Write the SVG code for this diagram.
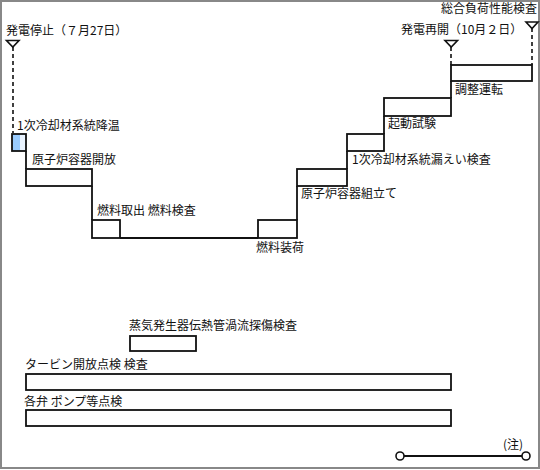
<svg xmlns="http://www.w3.org/2000/svg" width="540" height="470" viewBox="0 0 540 470">
<style>
text{font-family:"Noto Sans CJK JP","Noto Sans",sans-serif;font-size:12px;fill:#111}
.st{fill:none;stroke:#111;stroke-width:1.8}
.bx{fill:#fff;stroke:#111;stroke-width:1.8}
.dash{stroke:#111;stroke-width:1.6;stroke-dasharray:4 3;fill:none}
.tri{fill:#fff;stroke:#111;stroke-width:1.6}
.dot{fill:#fff;stroke:#111;stroke-width:1.6}
</style>
<rect x="0" y="0" width="540" height="470" fill="#fff"/>
<rect x="1" y="1" width="538" height="467" fill="none" stroke="#888" stroke-width="2"/>
<g id="connectors">
<line class="dash" x1="13" y1="47" x2="13" y2="133"/>
<line class="dash" x1="451" y1="47" x2="451" y2="65"/>
<line class="dash" x1="532" y1="28" x2="532" y2="65"/>
<polyline class="st" points="26,151 26,169"/>
<polyline class="st" points="92,186 92,220"/>
<polyline class="st" points="120,238 258,238"/>
<polyline class="st" points="297,186 297,220"/>
<polyline class="st" points="347,151 347,169"/>
<polyline class="st" points="384,116 384,134"/>
<polyline class="st" points="451,81 451,98"/>
<line class="st" x1="404" y1="456" x2="522" y2="456"/>
</g>
<g id="stop">
<polygon class="tri" points="6.5,40.5 19,40.5 12.8,47"/>
<text x="6" y="35">発電停止（７月27日）</text>
</g>
<g id="restart">
<polygon class="tri" points="445,40.5 457.5,40.5 451.2,47"/>
<text x="401" y="34">発電再開（10月２日）</text>
</g>
<g id="fullload">
<polygon class="tri" points="526,22 538,22 532,28.5"/>
<text x="537" y="12.5" text-anchor="end">総合負荷性能検査</text>
</g>
<g id="cooldown">
<rect x="12" y="134" width="14" height="17" fill="#eaf4ff" stroke="none"/>
<rect x="12" y="134" width="8" height="17" fill="#99ccff" stroke="none"/>
<rect x="12" y="134" width="14" height="17" fill="none" stroke="#111" stroke-width="1.8"/>
<text x="17" y="130">1次冷却材系統降温</text>
</g>
<g id="rv-open">
<rect class="bx" x="26" y="169" width="66" height="17"/>
<text x="32" y="164">原子炉容器開放</text>
</g>
<g id="fuel-out">
<rect class="bx" x="92" y="220" width="28" height="18"/>
<text x="97" y="215">燃料取出 燃料検査</text>
</g>
<g id="fuel-load">
<rect class="bx" x="258" y="220" width="39" height="18"/>
<text x="256" y="252">燃料装荷</text>
</g>
<g id="rv-assemble">
<rect class="bx" x="297" y="169" width="50" height="17"/>
<text x="301" y="198">原子炉容器組立て</text>
</g>
<g id="leak">
<rect class="bx" x="347" y="134" width="37" height="17"/>
<text x="352" y="164">1次冷却材系統漏えい検査</text>
</g>
<g id="startup">
<rect class="bx" x="384" y="98" width="67" height="18"/>
<text x="388" y="128">起動試験</text>
</g>
<g id="adjust">
<rect class="bx" x="451" y="65" width="81" height="16"/>
<text x="455" y="94">調整運転</text>
</g>
<g id="sg">
<rect class="bx" x="130" y="336" width="66" height="15"/>
<text x="129" y="330">蒸気発生器伝熱管渦流探傷検査</text>
</g>
<g id="turbine">
<rect class="bx" x="26" y="374" width="425" height="16"/>
<text x="25" y="369">タービン開放点検 検査</text>
</g>
<g id="valves">
<rect class="bx" x="26" y="410" width="425" height="16"/>
<text x="24" y="406">各弁 ポンプ等点検</text>
</g>
<g id="note">
<circle class="dot" cx="400" cy="456" r="4"/>
<circle class="dot" cx="526" cy="456" r="4"/>
<text x="503" y="449">(注)</text>
</g>
</svg>
